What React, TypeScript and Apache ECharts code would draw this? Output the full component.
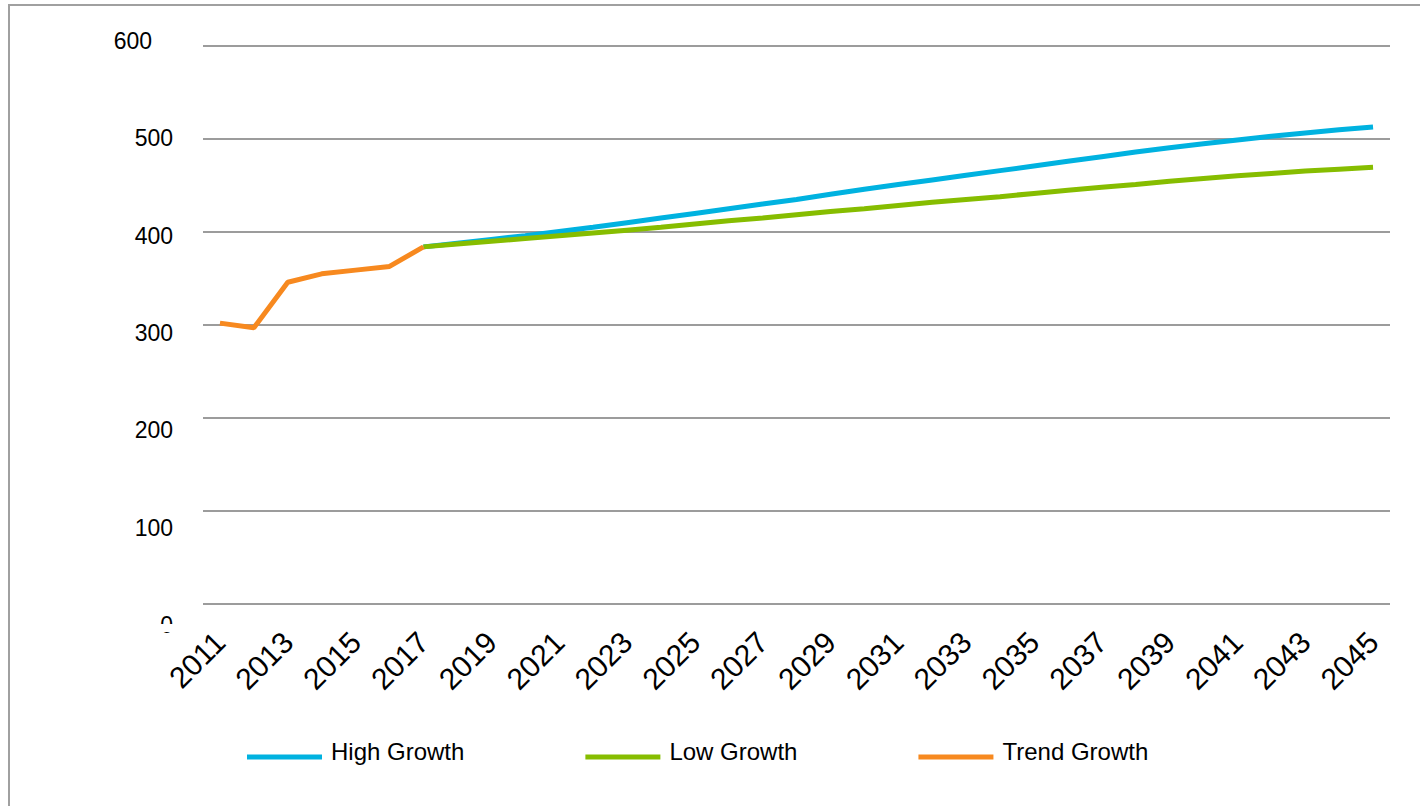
import React, { useEffect, useRef } from "react";
import * as echarts from "echarts";

const years = [
  "2011", "2012", "2013", "2014", "2015", "2016", "2017", "2018", "2019", "2020",
  "2021", "2022", "2023", "2024", "2025", "2026", "2027", "2028", "2029", "2030",
  "2031", "2032", "2033", "2034", "2035", "2036", "2037", "2038", "2039", "2040",
  "2041", "2042", "2043", "2044", "2045",
];

// Trend Growth: 2011–2017
const trendGrowth = [302, 297, 346, 355, 359, 363, 384];

// High Growth: 2017–2045
const highGrowth = [
  384, 388, 392, 396, 400.5, 405, 410, 415, 420, 425,
  430, 435, 440.5, 446, 451, 456, 461, 466, 471, 476,
  481, 486, 490.5, 495, 499, 503, 506.5, 510, 513,
];

// Low Growth: 2017–2045
const lowGrowth = [
  384, 387, 390, 393, 396, 399, 402, 405, 408.5, 412,
  415, 418.5, 422, 425, 428.5, 432, 435, 438, 441.5, 445,
  448, 451, 454.5, 457.5, 460.5, 463, 465.5, 467.5, 469.5,
];

const yTicks = [0, 100, 200, 300, 400, 500, 600];

const FONT = "'Liberation Sans', Arial, sans-serif";

export default function App() {
  const ref = useRef<HTMLDivElement>(null);

  useEffect(() => {
    if (!ref.current) return;
    const chart = echarts.init(ref.current, null, { renderer: "svg" });

    const projStart = years.indexOf("2017");
    const pad = (n: number) => new Array(n).fill(null);
    const trendData = [...trendGrowth, ...pad(years.length - trendGrowth.length)];
    const highData = [...pad(projStart), ...highGrowth];
    const lowData = [...pad(projStart), ...lowGrowth];

    const yMin = yTicks[0];
    const yMax = yTicks[yTicks.length - 1];
    const yStep = yTicks[1] - yTicks[0];

    chart.setOption({
      animation: false,
      backgroundColor: "#ffffff",
      textStyle: { fontFamily: FONT },
      grid: [
        { left: 203, right: 30, top: 46, bottom: 202, containLabel: false },
        { left: 181, right: 30, top: 41, height: 584, containLabel: false },
      ],
      xAxis: [
        {
          type: "category",
          gridIndex: 0,
          data: years,
          boundaryGap: true,
          axisLine: { show: false },
          axisTick: { show: false },
          splitLine: { show: false },
          axisLabel: {
            interval: 1,
            rotate: 45,
            margin: 33,
            fontSize: 30,
            color: "#000000",
            fontFamily: FONT,
          },
        },
        { type: "category", gridIndex: 1, show: false, data: years },
      ],
      yAxis: [
        {
          type: "value",
          gridIndex: 0,
          min: yMin,
          max: yMax,
          interval: yStep,
          axisLine: { show: false },
          axisTick: { show: false },
          axisLabel: { show: false },
          splitLine: { lineStyle: { color: "#9c9c9c", width: 2 } },
        },
        {
          type: "value",
          gridIndex: 1,
          min: yMin,
          max: yMax,
          interval: yStep,
          axisLine: { show: false },
          axisTick: { show: false },
          splitLine: { show: false },
          axisLabel: {
            margin: 8,
            fontSize: 23,
            color: "#000000",
            fontFamily: FONT,
            formatter: (v: number) => (v === yMax ? `{s|${v}}` : `${v}`),
            rich: {
              s: { fontSize: 23, color: "#000000", fontFamily: FONT, padding: [0, 21, 0, 0] },
            },
          },
        },
      ],
      legend: {
        left: 247,
        top: 739,
        padding: 0,
        itemWidth: 75,
        itemHeight: 5,
        itemGap: 121,
        icon: "rect",
        formatter: (name: string) => `{t|${name}}`,
        textStyle: {
          fontSize: 24,
          color: "#000000",
          fontFamily: FONT,
          rich: {
            t: {
              fontSize: 24,
              color: "#000000",
              fontFamily: FONT,
              padding: [0, 0, 12, 4],
            },
          },
        },
        data: ["High Growth", "Low Growth", "Trend Growth"],
      },
      series: [
        {
          name: "High Growth",
          type: "line",
          data: highData,
          showSymbol: false,
          symbol: "none",
          lineStyle: { color: "#00b2e0", width: 5 },
          itemStyle: { color: "#00b2e0" },
          z: 2,
        },
        {
          name: "Low Growth",
          type: "line",
          data: lowData,
          showSymbol: false,
          symbol: "none",
          lineStyle: { color: "#86bd00", width: 5 },
          itemStyle: { color: "#86bd00" },
          z: 3,
        },
        {
          name: "Trend Growth",
          type: "line",
          data: trendData,
          showSymbol: false,
          symbol: "none",
          lineStyle: { color: "#f7891f", width: 5 },
          itemStyle: { color: "#f7891f" },
          z: 4,
        },
      ],
      graphic: [
        {
          type: "rect",
          shape: { x: 9, y: 5, width: 1500, height: 900 },
          style: { fill: "none", stroke: "#a0a0a0", lineWidth: 2 },
          silent: true,
          z: 0,
        },
        {
          type: "rect",
          shape: { x: 150, y: 624, width: 30, height: 8 },
          style: { fill: "#ffffff" },
          silent: true,
          z: 100,
        },
      ],
    });

    return () => chart.dispose();
  }, []);

  return (
    <div
      ref={ref}
      style={{ position: "fixed", left: 0, top: 0, width: 1420, height: 806 }}
    />
  );
}
